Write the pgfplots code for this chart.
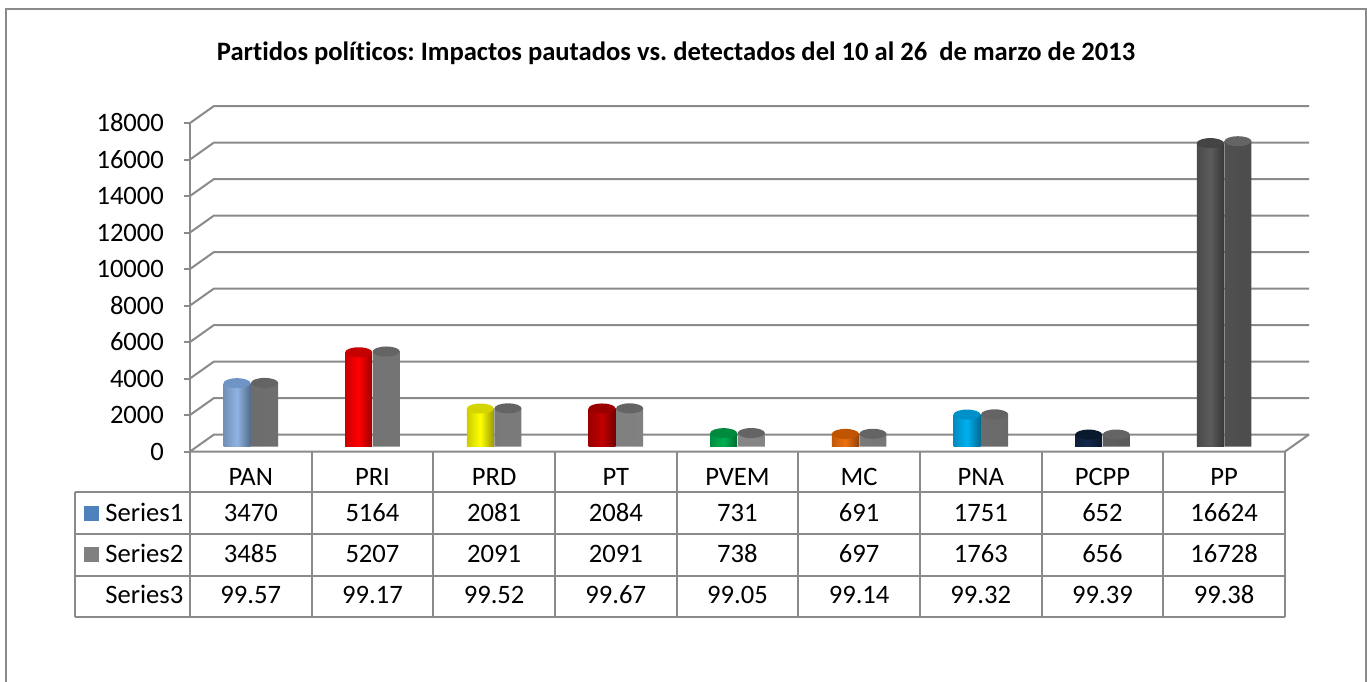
\documentclass[border=0pt]{standalone}
\usepackage{pgfplots}
\pgfplotsset{compat=1.18}
\usepackage{fontspec}
\setmainfont{Carlito}[Ligatures=NoCommon]
\frenchspacing
\definecolor{gridc}{HTML}{8A8A8A}
\definecolor{s1leg}{HTML}{4F81BD}
\definecolor{s2c}{HTML}{808080}
\definecolor{cPAN}{HTML}{8EB4E3}\definecolor{tPAN}{HTML}{6F94C6}
\definecolor{cPRI}{HTML}{FF0000}\definecolor{tPRI}{HTML}{C40000}
\definecolor{cPRD}{HTML}{FFFF00}\definecolor{tPRD}{HTML}{D4D400}
\definecolor{cPT}{HTML}{C00000}\definecolor{tPT}{HTML}{9A0000}
\definecolor{cPVEM}{HTML}{00B050}\definecolor{tPVEM}{HTML}{008A3E}
\definecolor{cMC}{HTML}{EE7010}\definecolor{tMC}{HTML}{C05400}
\definecolor{cPNA}{HTML}{00B0F0}\definecolor{tPNA}{HTML}{0090C8}
\definecolor{cPCPP}{HTML}{12294A}\definecolor{tPCPP}{HTML}{0A1A2E}
\definecolor{cPP}{HTML}{5C5C5C}\definecolor{tPP}{HTML}{444444}
\definecolor{tS2}{HTML}{646464}
\pgfdeclareplotmark{cylL}{\pgfpathellipse{\pgfpoint{-6.9pt}{2.5pt}}{\pgfpoint{6.75pt}{0pt}}{\pgfpoint{0pt}{2.5pt}}\pgfusepathqfill}
\pgfdeclareplotmark{cylR}{\pgfpathellipse{\pgfpoint{6.9pt}{2.5pt}}{\pgfpoint{6.75pt}{0pt}}{\pgfpoint{0pt}{2.5pt}}\pgfusepathqfill}
\newcommand{\barL}[4]{%
\addplot[ybar, bar width=13.5pt, bar shift=-6.9pt, yshift=2.5pt, draw=none, left color=#3!80!black, right color=#3!60!black, middle color=#3] coordinates {(#1,#2)};
\addplot[only marks, mark=cylL, mark options={fill=#4, draw=none}] coordinates {(#1,#2)};
}
\newcommand{\tabfont}{\fontsize{13.3}{15}\selectfont}
\begin{document}
\begin{tikzpicture}
\begin{scope}[x=0.5pt,y=-0.5pt]
\path[use as bounding box] (0,0) rectangle (1367,681);
\fill[white] (0,0) rectangle (1367,681);
\draw[gridc, line width=1pt] (5.5,700) -- (5.5,9) -- (1366,9) -- (1366,700);
\node[anchor=base, inner sep=0pt, font=\bfseries\tabfont] at (676,60) {Partidos políticos: Impactos pautados vs. detectados del 10 al 26\ \ de marzo de 2013};
\end{scope}
\begin{axis}[at={(95pt,-225.75pt)}, anchor=south west, scale only axis,
  width=547.5pt, height=164.25pt,
  xmin=-0.5, xmax=8.5, ymin=0, ymax=18000, clip=false,
  axis x line=none, axis y line=left,
  y axis line style={-, draw=gridc, line width=1pt},
  ytick={0,2000,4000,6000,8000,10000,12000,14000,16000,18000},
  ytick style={draw=gridc, line width=1pt},
  major tick length=3pt, tick align=outside,
  scaled y ticks=false,
  /pgf/number format/1000 sep={},
  /pgf/number format/assume math mode=true,
  yticklabel style={font=\tabfont, text=black, xshift=-6.5pt},
]
\foreach \v in {0,2000,4000,6000,8000,10000,12000,14000,16000,18000} {
  \edef\temp{\noexpand\draw[gridc, line width=1pt] (axis cs:-0.5,\v) -- ++(12pt,8.5pt) -- ++(547.5pt,0pt);}
  \temp
}
\draw[gridc, line width=1pt] (axis cs:-0.5,0) -- (axis cs:8.5,0) -- ++(12pt,8.5pt);
% Series2 (detectados)
\addplot[ybar, bar width=13.5pt, bar shift=6.9pt, yshift=2.5pt, draw=none, left color=s2c!85!black, right color=s2c!60!black, middle color=s2c!95!white]
  coordinates {(0,3485) (1,5207) (2,2091) (3,2091) (4,738) (5,697) (6,1763) (7,656) (8,16728)};
\addplot[only marks, mark=cylR, mark options={fill=tS2, draw=none}]
  coordinates {(0,3485) (1,5207) (2,2091) (3,2091) (4,738) (5,697) (6,1763) (7,656) (8,16728)};
% Series1 (pautados)
\barL{0}{3470}{cPAN}{tPAN}
\barL{1}{5164}{cPRI}{tPRI}
\barL{2}{2081}{cPRD}{tPRD}
\barL{3}{2084}{cPT}{tPT}
\barL{4}{731}{cPVEM}{tPVEM}
\barL{5}{691}{cMC}{tMC}
\barL{6}{1751}{cPNA}{tPNA}
\barL{7}{652}{cPCPP}{tPCPP}
\barL{8}{16624}{cPP}{tPP}
\end{axis}
\begin{scope}[x=0.5pt,y=-0.5pt]
\foreach \k in {0,...,9} \draw[gridc, line width=1pt] (190+121.667*\k,451) -- (190+121.667*\k,617);
\draw[gridc, line width=1pt] (75,492) -- (75,617);
\foreach \yy in {492,534,576,617} \draw[gridc, line width=1pt] (75,\yy) -- (1285,\yy);
\foreach \n [count=\i from 0] in {PAN,PRI,PRD,PT,PVEM,MC,PNA,PCPP,PP}
  \node[anchor=base, inner sep=0pt, font=\tabfont] at (250.8+121.667*\i,485) {\n};
\foreach \n [count=\i from 0] in {3470,5164,2081,2084,731,691,1751,652,16624}
  \node[anchor=base, inner sep=0pt, font=\tabfont] at (250.8+121.667*\i,521) {\n};
\foreach \n [count=\i from 0] in {3485,5207,2091,2091,738,697,1763,656,16728}
  \node[anchor=base, inner sep=0pt, font=\tabfont] at (250.8+121.667*\i,562.5) {\n};
\foreach \n [count=\i from 0] in {99.57,99.17,99.52,99.67,99.05,99.14,99.32,99.39,99.38}
  \node[anchor=base, inner sep=0pt, font=\tabfont] at (250.8+121.667*\i,603.5) {\n};
\fill[s1leg] (84,505.5) rectangle (99,520.5);
\fill[s2c] (84,547) rectangle (99,562);
\node[anchor=base west, inner sep=0pt, font=\tabfont] at (105,521) {Series1};
\node[anchor=base west, inner sep=0pt, font=\tabfont] at (105,562.5) {Series2};
\node[anchor=base west, inner sep=0pt, font=\tabfont] at (105,603.5) {Series3};
\end{scope}
\end{tikzpicture}
\end{document}
